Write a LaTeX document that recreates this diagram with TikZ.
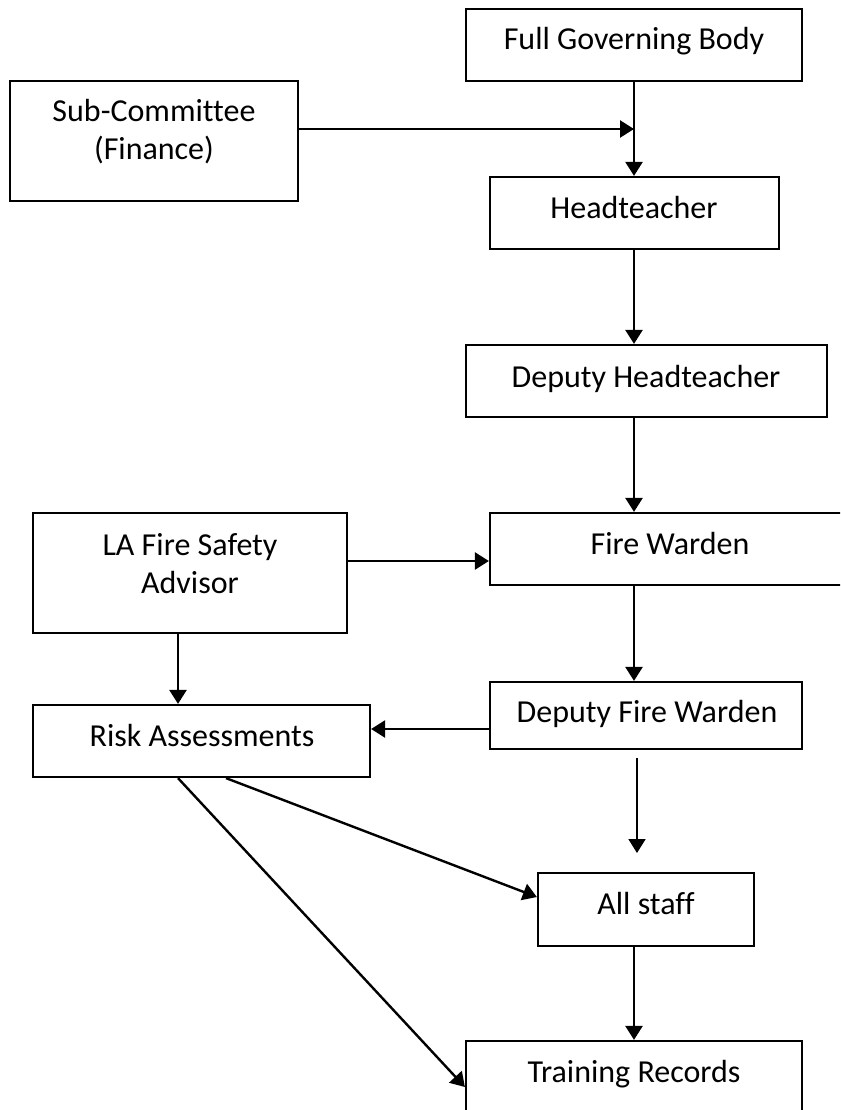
\documentclass[tikz,border=0pt]{standalone}
\usepackage{fontspec}
\setmainfont[Ligatures=NoCommon]{Carlito}
\usetikzlibrary{arrows.meta,calc}
\begin{document}
\begin{tikzpicture}[x=1pt,y=-1pt,
  box/.style={draw=black, line width=2.2pt, inner sep=0pt},
  txt/.style={anchor=base, inner sep=0pt, font=\fontsize{32}{38}\selectfont},
  conn/.style={line width=2.4pt, -{Triangle[length=14pt,width=17pt]}},
  plain/.style={line width=2.4pt}]
\clip (0,0) rectangle (840,1110);
\fill[white] (0,0) rectangle (840,1110);
% boxes
\node[box, minimum width=336pt, minimum height=72pt] (fgb) at (634,45) {};
\node[box, minimum width=288pt, minimum height=120pt] (sub) at (154,141) {};
\node[box, minimum width=289pt, minimum height=72pt] (head) at (634.5,213) {};
\node[box, minimum width=361pt, minimum height=72pt] (dhead) at (646.5,381) {};
\node[box, minimum width=314pt, minimum height=120pt] (la) at (190,573) {};
\node[box, minimum width=360pt, minimum height=72pt] (fw) at (670,549) {};
\node[box, minimum width=312pt, minimum height=67pt] (dfw) at (646,715.5) {};
\node[box, minimum width=337pt, minimum height=72pt] (risk) at (201.5,741) {};
\node[box, minimum width=216pt, minimum height=73pt] (staff) at (646,909.5) {};
\node[box, minimum width=336pt, minimum height=74pt] (train) at (634,1078) {};
% texts
\node[txt] (tfgb) at (634,50) {Full Governing Body};
\node[txt] (tsub1) at (154,122) {Sub-Committee};
\node[txt] (tsub2) at (154,160) {(Finance)};
\node[txt] (thead) at (634,218) {Headteacher};
\node[txt] (tdhead) at (646,387) {Deputy Headteacher};
\node[txt] (tla1) at (190,555) {LA Fire Safety};
\node[txt] (tla2) at (190,593) {Advisor};
\node[txt] (tfw) at (670,554) {Fire Warden};
\node[txt] (tdfw) at (647,722) {Deputy Fire Warden};
\node[txt] (trisk) at (202,746) {Risk Assessments};
\node[txt] (tstaff) at (646,914) {All staff};
\node[txt] (ttrain) at (634,1082) {Training Records};
% helper coordinates
\coordinate (j1) at (634,129);
\coordinate (j2) at (347,561);
\coordinate (j3) at (178,633);
\coordinate (j4) at (490,729);
\coordinate (a1) at (637,758);
\coordinate (a2) at (637,853);
\coordinate (r1) at (226,777);
\coordinate (s1) at (538,897);
\coordinate (r2) at (178,777);
\coordinate (t1) at (466,1087);
% connectors
\draw[conn] (fgb.south) -- (fgb.south |- head.north);
\draw[conn] (sub.east |- j1) -- (j1);
\draw[conn] (fgb.south |- head.south) -- (fgb.south |- dhead.north);
\draw[conn] (fgb.south |- dhead.south) -- (fgb.south |- fw.north);
\draw[conn] (la.east |- j2) -- (fw.west |- j2);
\draw[conn] (fgb.south |- fw.south) -- (fgb.south |- dfw.north);
\draw[conn] (j3 |- la.south) -- (j3 |- risk.north);
\draw[conn] (dfw.west |- j4) -- (risk.east |- j4);
\draw[conn, line width=1.8pt] (a1) -- (a2);
\draw[conn] (r1 |- risk.south) -- (staff.west |- s1);
\draw[conn] (r2 |- risk.south) -- (train.west |- t1);
\draw[conn] (fgb.south |- staff.south) -- (fgb.south |- train.north);
\end{tikzpicture}
\end{document}
